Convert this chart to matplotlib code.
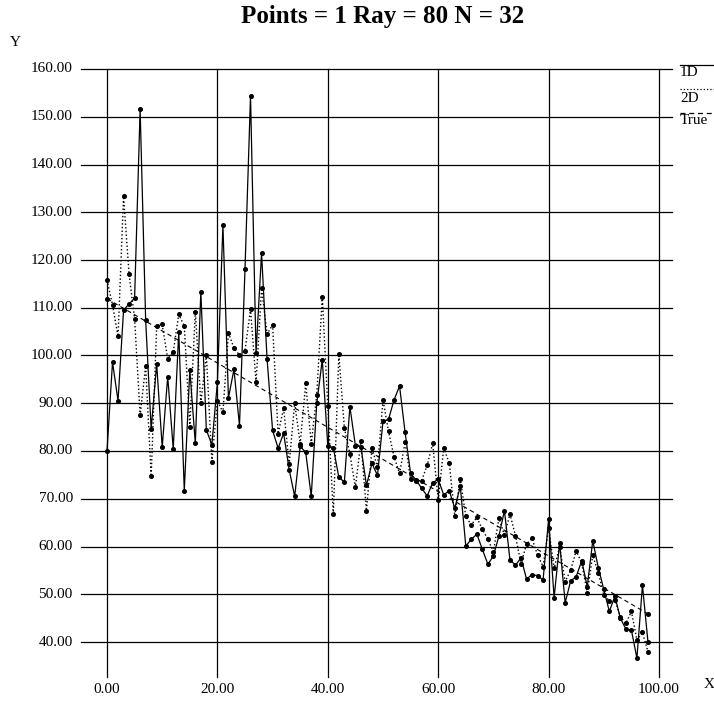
import matplotlib
matplotlib.use("Agg")
import matplotlib.pyplot as plt
import numpy as np

plt.rcParams['font.family'] = ['Liberation Serif', 'DejaVu Serif']

title = "Points = 1 Ray = 80 N = 32"
x_vals = list(range(0, 99))
one_d = [80.0, 98.6, 90.5, 109.5, 110.8, 112.0, 151.6, 107.5, 84.6, 98.2,
         80.8, 95.6, 80.4, 105.0, 71.7, 97.0, 81.6, 113.4, 84.4, 81.3,
         94.4, 127.3, 91.1, 97.1, 85.3, 118.1, 154.4, 100.5, 121.4, 99.2,
         84.3, 80.6, 83.7, 76.1, 70.5, 81.0, 79.7, 70.5, 90.0, 99.1,
         81.1, 80.7, 74.5, 73.5, 89.3, 81.1, 80.9, 72.8, 77.4, 74.9,
         86.2, 86.6, 90.7, 93.6, 83.9, 75.3, 73.9, 72.2, 70.6, 73.3,
         74.1, 70.8, 71.7, 68.0, 72.6, 60.1, 61.5, 62.6, 59.4, 56.3,
         58.0, 62.2, 67.5, 57.2, 56.1, 57.6, 53.2, 54.1, 53.9, 53.0,
         65.7, 49.3, 60.7, 48.2, 52.8, 53.7, 57.0, 51.6, 61.2, 55.6,
         51.0, 46.4, 49.6, 45.0, 42.7, 42.5, 36.6, 51.9, 40.0]
two_d = [115.8, 110.6, 104.0, 133.3, 117.0, 107.7, 87.5, 97.8, 74.7, 106.1,
         106.5, 99.3, 100.7, 108.6, 106.2, 85.1, 109.2, 90.1, 100.1, 77.8,
         90.5, 88.1, 104.8, 101.5, 100.1, 101.0, 109.7, 94.4, 114.1, 104.5,
         106.4, 83.6, 89.0, 77.2, 90.0, 81.5, 94.2, 81.5, 91.8, 112.3,
         89.5, 66.8, 100.3, 84.8, 79.4, 72.4, 82.0, 67.5, 80.6, 76.6,
         90.7, 84.1, 78.8, 75.3, 81.8, 74.1, 73.7, 73.8, 77.0, 81.6,
         69.7, 80.6, 77.5, 66.4, 74.2, 66.3, 64.5, 66.1, 63.6, 61.5,
         58.9, 65.9, 62.4, 66.8, 62.2, 56.4, 60.5, 61.7, 58.2, 55.8,
         63.8, 55.4, 60.0, 52.6, 55.1, 59.1, 56.5, 50.3, 58.2, 54.4,
         49.9, 48.6, 48.8, 45.3, 43.9, 46.4, 40.4, 42.0, 38.0]
true_x = [0, 98]
true_y = [111.9, 45.9]

x_ticks = [0, 20, 40, 60, 80, 100]
y_ticks = [40, 50, 60, 70, 80, 90, 100, 110, 120, 130, 140, 150, 160]

W, H = 714, 711
fig = plt.figure(figsize=(W / 100, H / 100), dpi=100)
# x=0 at px 107, x=100 at px 659; y=40 at 69 from bottom, y=160 at 642 from bottom
ax = fig.add_axes([107 / W, 69 / H, 552 / W, 573 / H])
ax.set_xlim(0, 100)
ax.set_ylim(40, 160)
ax.axis('off')

x_left, x_right = -4.7, 102.4
y_bottom = 32.7
for yv in y_ticks:
    ax.plot([x_left, x_right], [yv, yv], color='black', lw=0.9, clip_on=False, zorder=1)
    ax.text(x_left - 1.5, yv, f"{yv:.2f}", ha='right', va='center', fontsize=11, clip_on=False)
for xv in x_ticks:
    ax.plot([xv, xv], [y_bottom, 160], color='black', lw=0.9, clip_on=False, zorder=1)
    ax.text(xv, y_bottom - 1.2, f"{xv:.2f}", ha='center', va='top', fontsize=11, clip_on=False)

ax.plot(x_vals, one_d, '-', color='black', lw=0.9, marker='o', ms=2.6, clip_on=False, zorder=3)
ax.plot(x_vals, two_d, ':', color='black', lw=1.0, marker='o', ms=2.6, clip_on=False, zorder=3)
ax.plot(true_x, true_y, '--', color='black', lw=0.8, marker='o', ms=2.6, clip_on=False,
        dashes=(4, 3), zorder=2)

fig.text(383 / W, 1 - 17 / H, title, ha='center', va='center', fontsize=18, fontweight='bold')
fig.text(15 / W, 1 - 43 / H, "Y", ha='center', va='center', fontsize=11)
fig.text(709 / W, 1 - 685 / H, "X", ha='center', va='center', fontsize=11)

# legend on the right
leg = [("1D", '-', 65, 73), ("2D", ':', 89, 98), ("True", '--', 113, 121)]
for lab, ls, ly, ty in leg:
    line = plt.Line2D([680 / W, 714 / W], [1 - ly / H, 1 - ly / H], transform=fig.transFigure,
                      color='black', lw=0.9, linestyle=ls)
    if ls == '--':
        line.set_dashes((4, 3))
    fig.add_artist(line)
    fig.text(680 / W, 1 - ty / H, lab, ha='left', va='center', fontsize=11)

fig.savefig("out.png", dpi=100)
